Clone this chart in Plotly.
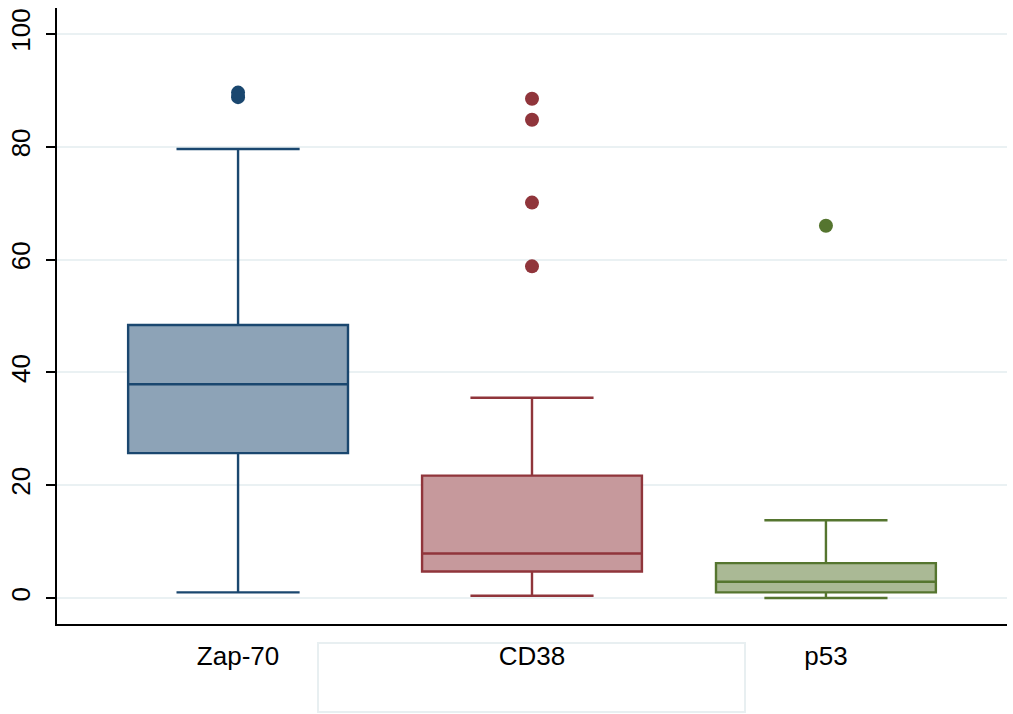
import plotly.graph_objects as go

categories = ["Zap-70", "CD38", "p53"]
positions = [1, 2, 3]
lower_whisker = [1.0, 0.4, 0.0]
q1_vals = [25.7, 4.7, 1.0]
median_vals = [37.9, 7.9, 2.9]
q3_vals = [48.4, 21.7, 6.2]
upper_whisker = [79.6, 35.5, 13.8]
outliers = [[88.8, 89.6], [58.8, 70.1, 84.8, 88.5], [66.0]]

line_colors = ["#1a476f", "#90353b", "#55752f"]
fill_colors = ["#8da3b7", "#c6999c", "#aab995"]

fig = go.Figure()
for i, cat in enumerate(categories):
    fig.add_trace(go.Box(
        x=[positions[i]],
        q1=[q1_vals[i]], median=[median_vals[i]], q3=[q3_vals[i]],
        lowerfence=[lower_whisker[i]], upperfence=[upper_whisker[i]],
        width=0.748, whiskerwidth=0.56,
        fillcolor=fill_colors[i],
        line=dict(color=line_colors[i], width=2.4),
        boxpoints=False, name=cat, showlegend=False, hoverinfo="skip",
    ))
    fig.add_trace(go.Scatter(
        x=[positions[i]] * len(outliers[i]), y=outliers[i], mode="markers",
        marker=dict(color=line_colors[i], size=14, line=dict(width=0)),
        showlegend=False, hoverinfo="skip",
    ))

fig.add_shape(type="rect", xref="paper", yref="paper",
              x0=0.2747, x1=0.7242, y0=-0.1429, y1=-0.0308,
              line=dict(color="#e8eff1", width=2), fillcolor="rgba(0,0,0,0)")

font_family = "Liberation Sans, Arial, sans-serif"
fig.update_layout(
    width=1013, height=714,
    margin=dict(l=57, r=6, t=8, b=90, autoexpand=False),
    plot_bgcolor="white", paper_bgcolor="white",
    font=dict(family=font_family, size=26, color="black"),
    showlegend=False,
    xaxis=dict(
        range=[0.384, 3.616], tickmode="array", tickvals=positions, ticktext=categories,
        showgrid=False, zeroline=False, showline=True, linecolor="black", linewidth=2,
        ticks="", ticklabelstandoff=8, tickfont=dict(size=26),
    ),
    yaxis=dict(
        range=[-4.6, 104.6], tickmode="array", tickvals=[0, 20, 40, 60, 80, 100],
        showgrid=True, gridcolor="#eaf1f3", gridwidth=2, zeroline=False,
        showline=True, linecolor="black", linewidth=2,
        ticks="outside", ticklen=9, tickwidth=2, tickcolor="black",
        tickangle=-90, tickfont=dict(size=26), ticklabelstandoff=6,
    ),
)
fig.write_html("out.html", config={"displayModeBar": False},
               post_script="document.body.style.margin='0';document.body.style.padding='0';")
